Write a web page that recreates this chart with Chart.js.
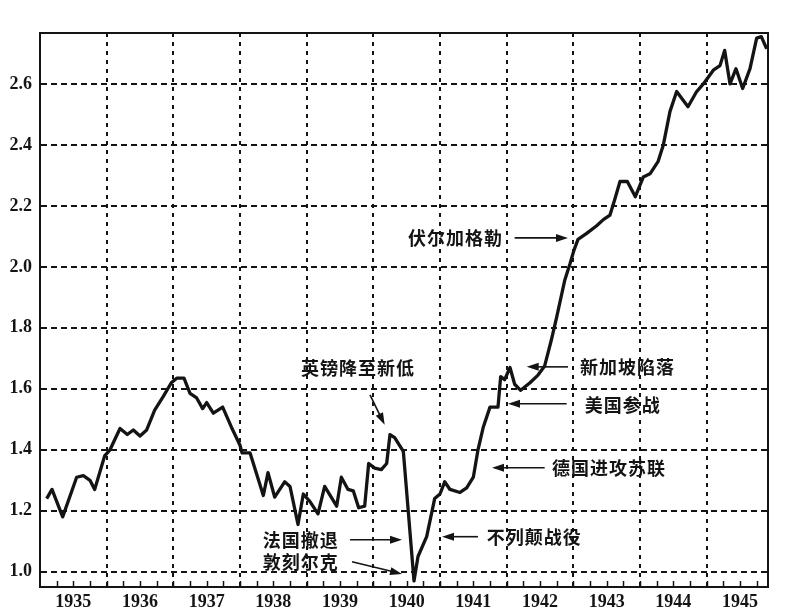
<!DOCTYPE html>
<html>
<head>
<meta charset="utf-8">
<script src="https://cdn.jsdelivr.net/npm/chart.js@4/dist/chart.umd.min.js"></script>
<style>
  html, body { margin: 0; background: #fff; }
  #wrap { width: 800px; height: 615px; }
</style>
</head>
<body>
<div id="wrap"><canvas id="chart" width="800" height="615"></canvas></div>
<script>
// index level (time in fractional years)
const dates = [
    1935.10, 1935.18, 1935.34, 1935.55, 1935.65, 1935.75, 1935.82, 1935.97,
    1936.05, 1936.20, 1936.31, 1936.40, 1936.50, 1936.60, 1936.72, 1936.85, 1936.97,
    1937.05, 1937.16, 1937.25, 1937.35, 1937.44, 1937.50, 1937.60, 1937.74, 1937.87,
    1938.00, 1938.03, 1938.15, 1938.35, 1938.42, 1938.52, 1938.67, 1938.75, 1938.87, 1938.95,
    1939.05, 1939.17, 1939.27, 1939.45, 1939.52, 1939.62, 1939.70, 1939.78, 1939.87, 1939.93,
    1940.02, 1940.12, 1940.20, 1940.25, 1940.32, 1940.45, 1940.61, 1940.67, 1940.80, 1940.92,
    1941.00, 1941.07, 1941.15, 1941.30, 1941.40, 1941.50, 1941.57, 1941.65, 1941.75, 1941.87, 1941.91, 1941.97,
    1942.05, 1942.12, 1942.21, 1942.35, 1942.47, 1942.57, 1942.67, 1942.75, 1942.87, 1942.95,
    1943.01, 1943.07, 1943.20, 1943.35, 1943.45, 1943.55, 1943.62, 1943.70, 1943.81, 1943.93,
    1944.05, 1944.15, 1944.27, 1944.35, 1944.45, 1944.55, 1944.72, 1944.85, 1944.95,
    1945.10, 1945.20, 1945.27, 1945.35, 1945.44, 1945.54, 1945.65, 1945.75, 1945.82, 1945.90
];
const values = [
    1.24, 1.27, 1.18, 1.31, 1.315, 1.30, 1.27, 1.38,
    1.40, 1.47, 1.45, 1.465, 1.445, 1.465, 1.53, 1.575, 1.62,
    1.635, 1.635, 1.585, 1.57, 1.535, 1.555, 1.52, 1.54, 1.475,
    1.415, 1.39, 1.39, 1.25, 1.325, 1.245, 1.295, 1.28, 1.155, 1.255,
    1.23, 1.19, 1.28, 1.215, 1.31, 1.27, 1.265, 1.21, 1.215, 1.355,
    1.34, 1.335, 1.355, 1.45, 1.44, 1.395, 0.97, 1.05, 1.115, 1.24,
    1.255, 1.295, 1.27, 1.26, 1.275, 1.31, 1.40, 1.475, 1.54, 1.54, 1.64, 1.63,
    1.67, 1.615, 1.595, 1.62, 1.645, 1.675, 1.76, 1.835, 1.955, 2.01,
    2.055, 2.09, 2.11, 2.135, 2.155, 2.17, 2.22, 2.28, 2.28, 2.23,
    2.295, 2.305, 2.345, 2.40, 2.51, 2.575, 2.525, 2.575, 2.60,
    2.645, 2.66, 2.71, 2.60, 2.65, 2.585, 2.65, 2.75, 2.755, 2.715
];
const years = [1935, 1936, 1937, 1938, 1939, 1940, 1941, 1942, 1943, 1944, 1945];
const yTicks = [1.0, 1.2, 1.4, 1.6, 1.8, 2.0, 2.2, 2.4, 2.6];

// event notes: label position and arrow tail/tip, all in chart units
const notes = [
    { text: "英镑降至新低", at: [1939.77, 1.669], align: "center", from: [1939.95, 1.58], to: [1940.17, 1.482] },
    { text: "法国撤退", at: [1938.34, 1.105], align: "left", from: [1939.65, 1.105], to: [1940.43, 1.105] },
    { text: "敦刻尔克", at: [1938.34, 1.030], align: "left", from: [1939.68, 1.033], to: [1940.43, 0.993] },
    { text: "不列颠战役", at: [1941.70, 1.115], align: "left", from: [1941.57, 1.115], to: [1941.03, 1.115] },
    { text: "德国进攻苏联", at: [1942.68, 1.341], align: "left", from: [1942.57, 1.341], to: [1941.78, 1.341] },
    { text: "美国参战", at: [1943.17, 1.548], align: "left", from: [1942.90, 1.551], to: [1942.02, 1.551] },
    { text: "新加坡陷落", at: [1943.10, 1.672], align: "left", from: [1942.92, 1.672], to: [1942.30, 1.672] },
    { text: "伏尔加格勒", at: [1940.52, 2.095], align: "left", from: [1942.12, 2.095], to: [1942.92, 2.095] }
];

const ink = "#141414";

function arrow(ctx, x1, y1, x2, y2) {
    const a = Math.atan2(y2 - y1, x2 - x1);
    const len = 12, half = 4;
    const bx = x2 - len * Math.cos(a), by = y2 - len * Math.sin(a);
    ctx.beginPath();
    ctx.moveTo(x1, y1);
    ctx.lineTo(bx + 2 * Math.cos(a), by + 2 * Math.sin(a));
    ctx.stroke();
    ctx.beginPath();
    ctx.moveTo(x2, y2);
    ctx.lineTo(bx + half * Math.sin(a), by - half * Math.cos(a));
    ctx.lineTo(bx - half * Math.sin(a), by + half * Math.cos(a));
    ctx.closePath();
    ctx.fill();
}

const decorations = {
    id: "decorations",
    afterDatasetsDraw(chart) {
        const { ctx, chartArea: area, scales } = chart;
        const x = scales.x, y = scales.y;
        ctx.save();
        ctx.strokeStyle = ink;
        ctx.fillStyle = ink;

        // frame
        ctx.lineWidth = 2;
        ctx.strokeRect(area.left, area.top, area.right - area.left, area.bottom - area.top);

        // quarterly ticks pointing up from the axis
        ctx.lineWidth = 1.5;
        for (let q = years[0] + 0.25; q < x.max; q += 0.25) {
            const px = Math.round(x.getPixelForValue(q)) + 0.5;
            ctx.beginPath();
            ctx.moveTo(px, area.bottom);
            ctx.lineTo(px, area.bottom - 6);
            ctx.stroke();
        }

        // notes
        ctx.font = "bold 18px 'Noto Sans CJK SC'";
        ctx.letterSpacing = "1px";
        ctx.textBaseline = "middle";
        ctx.lineWidth = 1.6;
        notes.forEach(n => {
            ctx.textAlign = n.align;
            ctx.fillText(n.text, x.getPixelForValue(n.at[0]), y.getPixelForValue(n.at[1]));
            arrow(ctx,
                x.getPixelForValue(n.from[0]), y.getPixelForValue(n.from[1]),
                x.getPixelForValue(n.to[0]), y.getPixelForValue(n.to[1]));
        });
        ctx.restore();
    }
};

const tickFont = { family: "'Liberation Serif'", size: 18, weight: "bold" };

new Chart(document.getElementById("chart"), {
    type: "line",
    data: {
        datasets: [{
            data: dates.map((d, i) => ({ x: d, y: values[i] })),
            borderColor: ink,
            borderWidth: 3.3,
            borderJoinStyle: "round",
            pointRadius: 0,
            tension: 0,
            xAxisID: "x",
            yAxisID: "y"
        }]
    },
    options: {
        responsive: false,
        animation: false,
        layout: { padding: { top: 33, right: 32, left: 0, bottom: 0 } },
        plugins: {
            legend: { display: false },
            tooltip: { enabled: false }
        },
        scales: {
            x: {
                type: "linear",
                position: "bottom",
                min: 1935,
                max: 1945.92,
                afterBuildTicks: s => { s.ticks = years.map(v => ({ value: v + 0.5 })); },
                afterFit: s => { s.height = 28; },
                grid: { display: false, drawTicks: false },
                border: { display: true, color: ink, width: 2 },
                ticks: {
                    padding: 5,
                    color: ink,
                    font: tickFont,
                    maxRotation: 0,
                    autoSkip: false,
                    callback: (v, i) => String(years[i])
                }
            },
            xg: {
                type: "linear",
                position: "bottom",
                min: 1935,
                max: 1945.92,
                afterBuildTicks: s => { s.ticks = years.slice(1).map(v => ({ value: v })); },
                afterFit: s => { s.height = 0; },
                grid: { color: ink, lineWidth: 2, drawTicks: false },
                border: { display: false, dash: [4, 5] },
                ticks: { display: false }
            },
            y: {
                min: 0.95,
                max: 2.767,
                afterBuildTicks: s => { s.ticks = yTicks.map(v => ({ value: v })); },
                afterFit: s => { s.width = 40; },
                grid: { color: ink, lineWidth: 2, drawTicks: false },
                border: { display: true, color: ink, width: 2, dash: [6, 4] },
                ticks: {
                    padding: 8,
                    color: ink,
                    font: tickFont,
                    callback: v => v.toFixed(1)
                }
            }
        }
    },
    plugins: [decorations]
});
</script>
</body>
</html>
